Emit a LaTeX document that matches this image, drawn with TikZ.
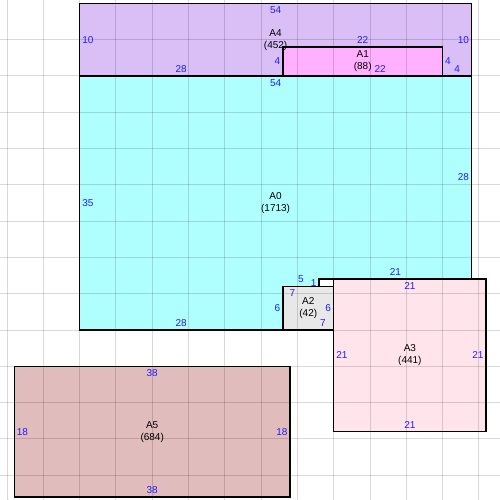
\documentclass[tikz,border=0pt]{standalone}
\usepackage{fontspec}
\setmainfont{Liberation Sans}
\definecolor{zoneA0}{RGB}{176,255,255}
\definecolor{zoneA1}{RGB}{255,176,255}
\definecolor{zoneA2}{RGB}{232,232,232}
\definecolor{zoneA3}{RGB}{255,228,236}
\definecolor{zoneA4}{RGB}{217,191,246}
\definecolor{zoneA5}{RGB}{225,188,188}
\definecolor{sideblue}{RGB}{30,30,255}
\begin{document}
\begin{tikzpicture}[x=5.445pt, y=-5.445pt,
  gridline/.style={black, opacity=0.15, line width=0.7pt},
  zoneline/.style={black, line width=1pt},
  side/.style={text=sideblue, font=\fontsize{7.5}{9}\selectfont, inner xsep=1.8pt, inner ysep=2.4pt},
  zonename/.style={align=center, font=\fontsize{7.5}{9}\selectfont, inner sep=0pt}]
% Set the page frame
\useasboundingbox (-0.964,-0.455) rectangle (67.9,68.42);
\fill[white] (-0.964,-0.455) rectangle (67.9,68.42);

% Fill the areas
\fill[zoneA4] (10,0) rectangle (64,10);
\fill[zoneA1] (38,6) rectangle (60,10);
\fill[zoneA0] (10,10) -- (64,10) -- (64,38) -- (43,38) -- (43,39) -- (38,39) -- (38,45) -- (10,45) -- cycle;
\fill[zoneA2] (38,39) rectangle (45,45);
\fill[zoneA3] (45,38) rectangle (66,59);
\fill[zoneA5] (1,50) rectangle (39,68);

% Draw the grid over the areas
\foreach \gx in {0,5,...,65} \draw[gridline] (\gx,-1) -- (\gx,69);
\foreach \gy in {5,10,...,65} \draw[gridline] (-1,\gy) -- (68,\gy);

% Draw the outlines
\draw[zoneline] (10,0) rectangle (64,10);
\draw[zoneline] (38,6) rectangle (60,10);
\draw[zoneline] (10,10) -- (64,10) -- (64,38) -- (43,38) -- (43,39) -- (38,39) -- (38,45) -- (10,45) -- cycle;
\draw[zoneline] (38,39) rectangle (45,45);
\draw[zoneline] (45,38) rectangle (66,59);
\draw[zoneline] (1,50) rectangle (39,68);

% A4
\node[zonename] (a4name) at (37,5) {A4\\(452)};
\node[side, anchor=north] (a4top) at (37,0) {54};
\node[side, anchor=west] (a4left) at (10,5) {10};
\node[side, anchor=east] (a4right) at (64,5) {10};
\node[side, anchor=south] (a4bot) at (24,10) {28};
\node[side, anchor=south] (a4botr) at (62,10) {4};
\node[side, anchor=west] (a4inr) at (60,8) {4};
\node[side, anchor=east] (a4inl) at (38,8) {4};
\node[side, anchor=south] (a4intop) at (49,6) {22};

% A1
\node[zonename] (a1name) at (49,8) {A1\\(88)};
\node[side, anchor=south] (a1bot) at (51.4,10) {22};

% A0
\node[zonename] (a0name) at (37,27.5) {A0\\(1713)};
\node[side, anchor=north] (a0top) at (37,10) {54};
\node[side, anchor=west] (a0left) at (10,27.5) {35};
\node[side, anchor=east] (a0right) at (64,24) {28};
\node[side, anchor=south] (a0bot) at (24,45) {28};
\node[side, anchor=south] (a0step) at (53.5,38) {21};
\node[side, anchor=south] (a0notch) at (40.5,39) {5};
\node[side, anchor=east] (a0rise) at (43,38.5) {1};
\node[side, anchor=east] (a0drop) at (38,42) {6};

% A2
\node[zonename] (a2name) at (41.5,42) {A2\\(42)};
\node[side, anchor=north] (a2top) at (39.3,39) {7};
\node[side, anchor=east] (a2right) at (45,42) {6};
\node[side, anchor=south] (a2bot) at (43.5,45) {7};

% A3
\node[zonename] (a3name) at (55.5,48.5) {A3\\(441)};
\node[side, anchor=north] (a3top) at (55.5,38) {21};
\node[side, anchor=west] (a3left) at (45,48.5) {21};
\node[side, anchor=east] (a3right) at (66,48.5) {21};
\node[side, anchor=south] (a3bot) at (55.5,59) {21};

% A5
\node[zonename] (a5name) at (20,59) {A5\\(684)};
\node[side, anchor=north] (a5top) at (20,50) {38};
\node[side, anchor=south] (a5bot) at (20,68) {38};
\node[side, anchor=west] (a5left) at (1,59) {18};
\node[side, anchor=east] (a5right) at (39,59) {18};
\end{tikzpicture}
\end{document}
